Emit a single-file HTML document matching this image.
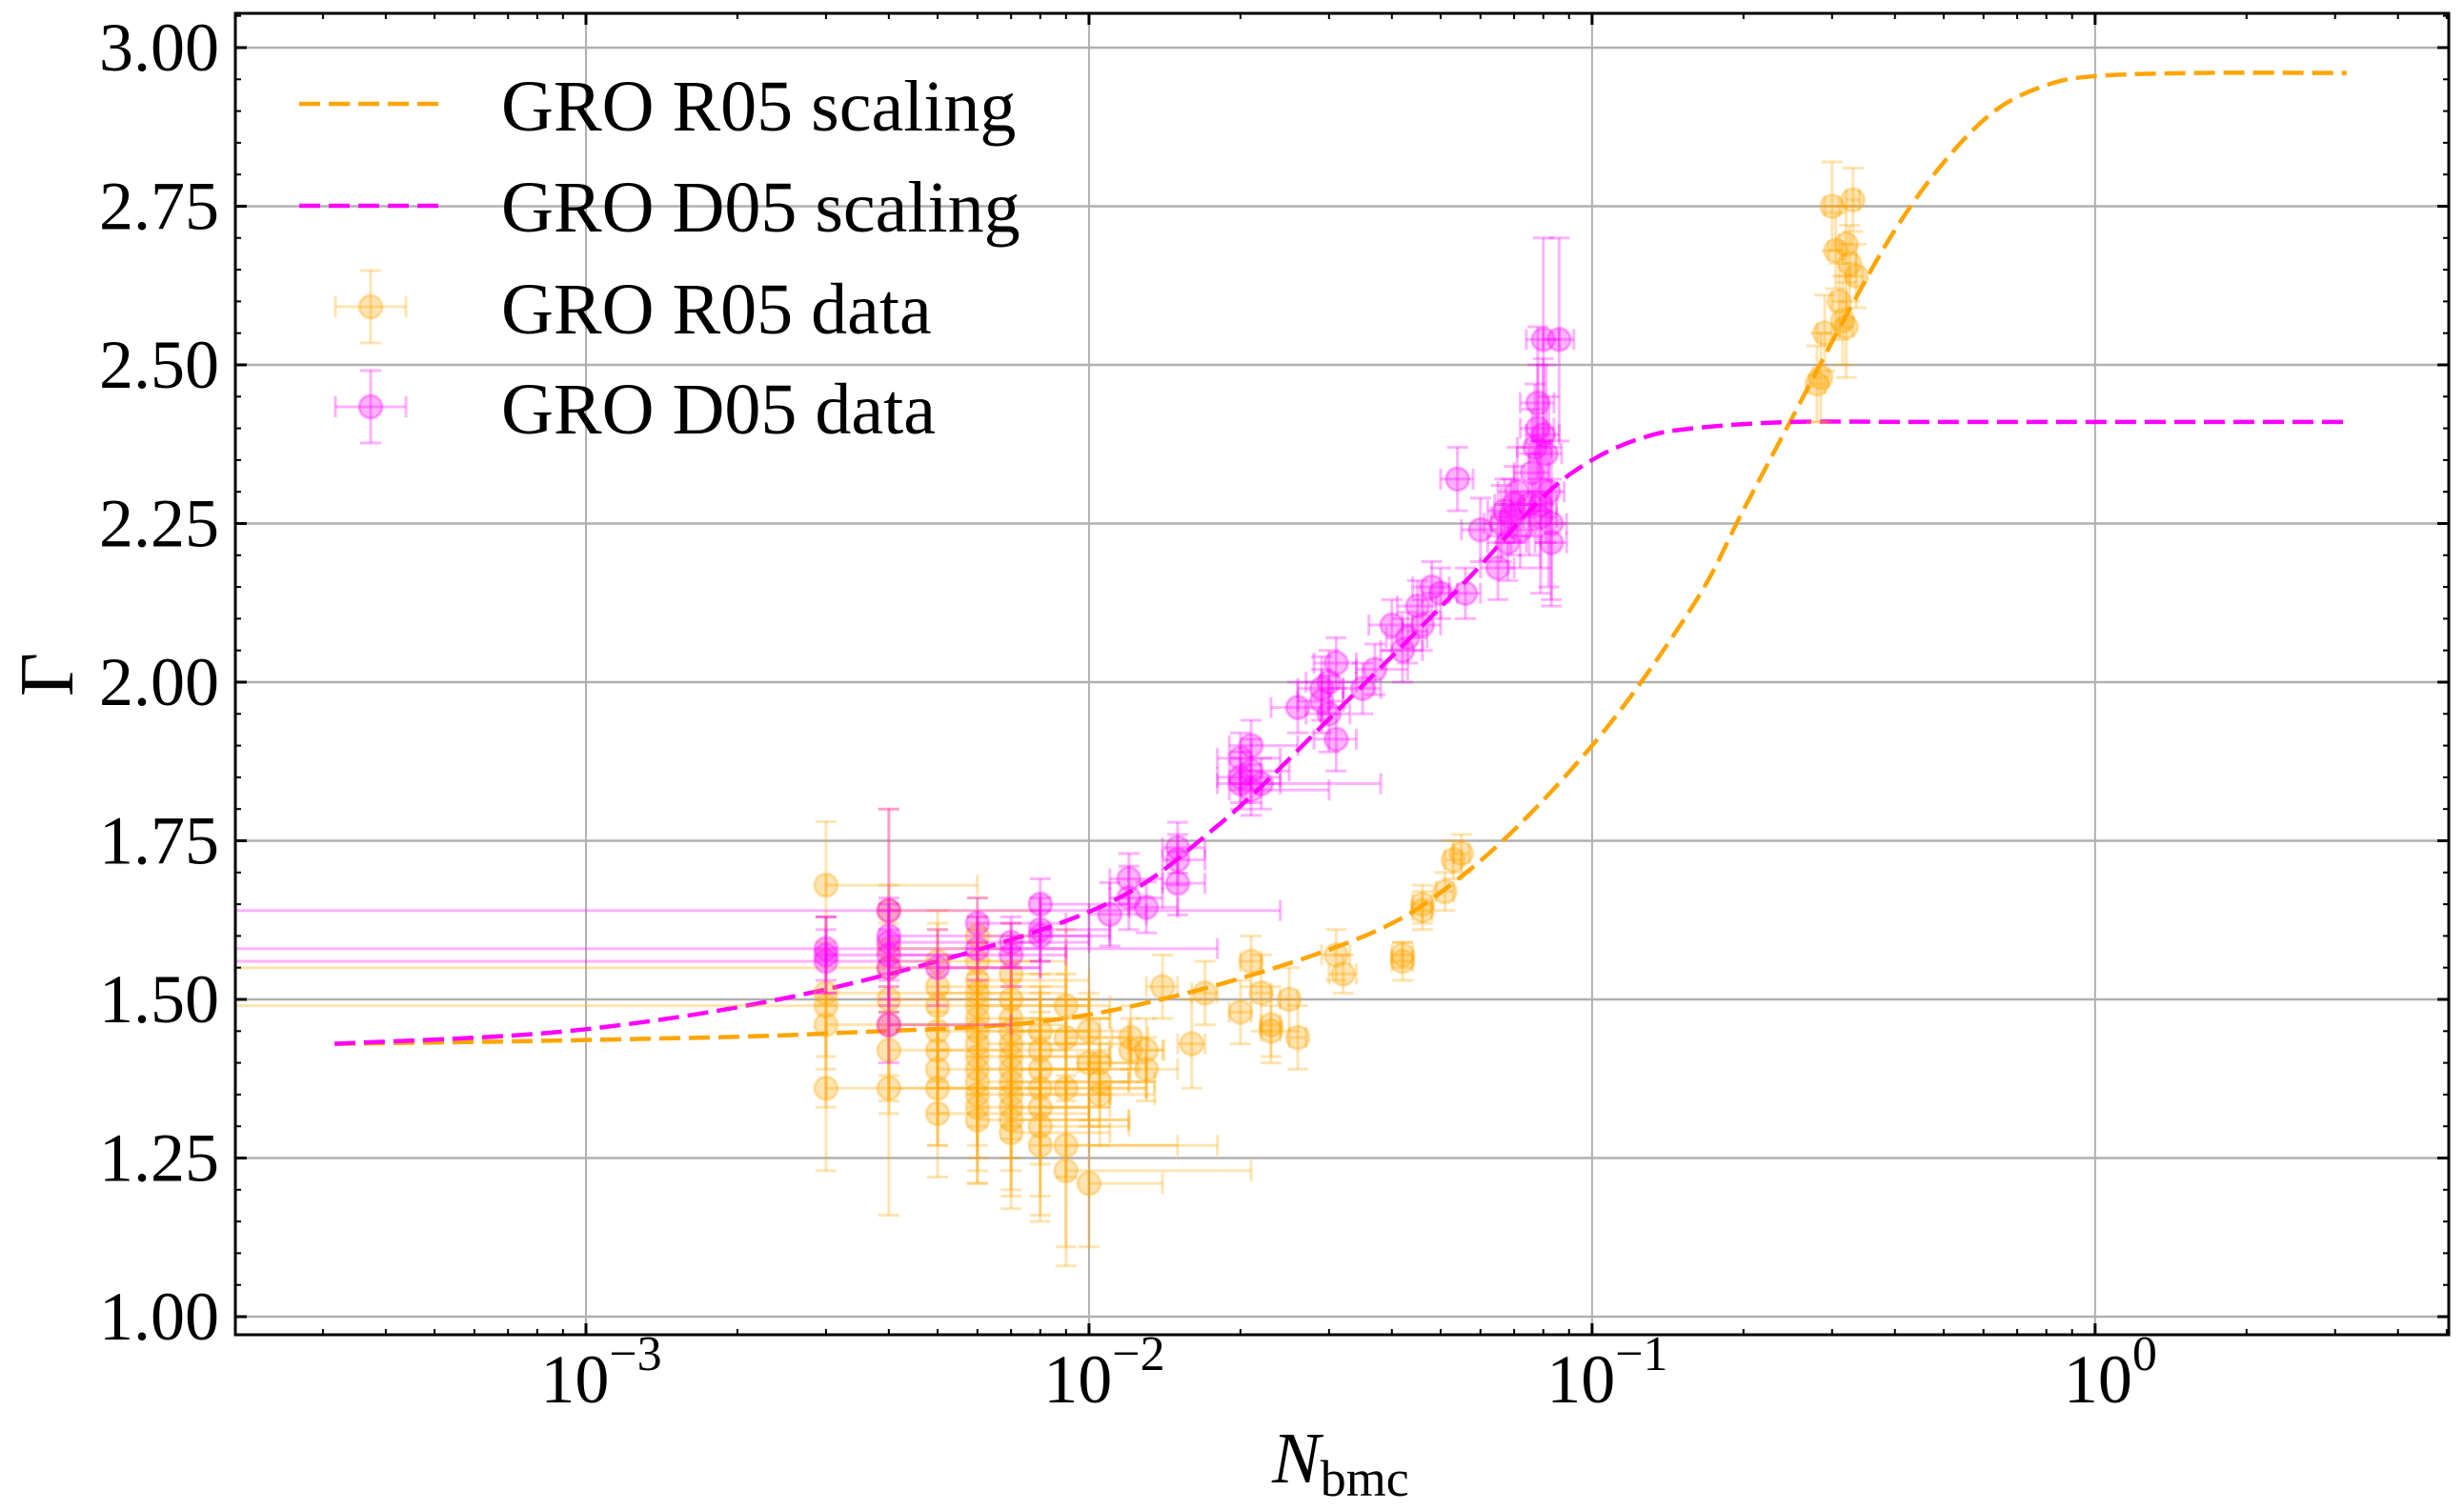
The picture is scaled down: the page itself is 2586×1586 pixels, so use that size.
<!DOCTYPE html>
<html><head><meta charset="utf-8">
<style>
html,body{margin:0;padding:0;background:#fff;}
svg{display:block;}
text{font-family:"Liberation Serif","DejaVu Serif",serif;fill:#000;}
</style></head>
<body>
<svg id="chart" width="2586" height="1586" viewBox="0 0 2586 1586" xmlns="http://www.w3.org/2000/svg">
  <rect x="0" y="0" width="2586" height="1586" fill="#fff"/>
  <g id="grid"></g>
  <g id="curves"></g>
  <g id="points"></g>
  <rect x="247" y="14" width="2323" height="1387" fill="none" stroke="#000" stroke-width="3"/>
  <g id="ticks"></g>
  <g id="labels"></g>
  <text x="50" y="708" font-size="80" text-anchor="middle" dominant-baseline="central" transform="rotate(-90 50 708)">Γ</text>
  <text x="1335" y="1556" font-size="76"><tspan font-style="italic">N</tspan><tspan font-size="54" dy="14">bmc</tspan></text>
  <g id="legend">
    <g>
      <line x1="314" y1="109" x2="462" y2="109" stroke="#ffa500" stroke-width="4.5" stroke-dasharray="22,9"/>
      <text x="526" y="137" font-size="76">GRO R05 scaling</text>
    </g>
    <g>
      <line x1="314" y1="216" x2="462" y2="216" stroke="#ff00ff" stroke-width="4.5" stroke-dasharray="22,9"/>
      <text x="526" y="243" font-size="76">GRO D05 scaling</text>
    </g>
    <g stroke-opacity="0.3">
      <line x1="352" y1="322" x2="426" y2="322" stroke="#ffa500" stroke-width="3"/>
      <line x1="389" y1="284" x2="389" y2="360" stroke="#ffa500" stroke-width="3"/>
      <line x1="378" y1="284" x2="400" y2="284" stroke="#ffa500" stroke-width="3"/>
      <line x1="378" y1="360" x2="400" y2="360" stroke="#ffa500" stroke-width="3"/>
      <line x1="352" y1="311" x2="352" y2="333" stroke="#ffa500" stroke-width="3"/>
      <line x1="426" y1="311" x2="426" y2="333" stroke="#ffa500" stroke-width="3"/>
      <circle cx="389" cy="322" r="12" fill="#ffa500" fill-opacity="0.3" stroke="#ffa500" stroke-width="3"/>
    </g>
    <text x="526" y="350" font-size="76">GRO R05 data</text>
    <g stroke-opacity="0.3">
      <line x1="352" y1="427" x2="426" y2="427" stroke="#ff00ff" stroke-width="3"/>
      <line x1="389" y1="389" x2="389" y2="465" stroke="#ff00ff" stroke-width="3"/>
      <line x1="378" y1="389" x2="400" y2="389" stroke="#ff00ff" stroke-width="3"/>
      <line x1="378" y1="465" x2="400" y2="465" stroke="#ff00ff" stroke-width="3"/>
      <line x1="352" y1="416" x2="352" y2="438" stroke="#ff00ff" stroke-width="3"/>
      <line x1="426" y1="416" x2="426" y2="438" stroke="#ff00ff" stroke-width="3"/>
      <circle cx="389" cy="427" r="12" fill="#ff00ff" fill-opacity="0.3" stroke="#ff00ff" stroke-width="3"/>
    </g>
    <text x="526" y="455" font-size="76">GRO D05 data</text>
  </g>
</svg>
<script>
// ---- data ----
const yTicks = [1.00, 1.25, 1.50, 1.75, 2.00, 2.25, 2.50, 2.75, 3.00];
const yTickLabels = ["1.00","1.25","1.50","1.75","2.00","2.25","2.50","2.75","3.00"];
const xDecades = [-3, -2, -1, 0];
const xTickLabels = ["10","10","10","10"];
const xTickExps = ["\u22123","\u22122","\u22121","0"];

const r05CurveLogN = [-3.5,-3.0,-2.5,-2.0,-1.5,-1.25,-1.0,-0.8,-0.7,-0.6,-0.5,-0.4,-0.3,-0.2,-0.1,0.0,0.2,0.5];
const r05CurveG    = [1.430,1.436,1.447,1.476,1.585,1.70,1.90,2.12,2.27,2.42,2.57,2.71,2.82,2.90,2.94,2.955,2.96,2.96];
const d05CurveLogN = [-3.5,-3.0,-2.5,-2.0,-1.75,-1.5,-1.25,-1.1,-1.0,-0.9,-0.8,-0.6,-0.3,0.5];
const d05CurveG    = [1.430,1.453,1.52,1.638,1.77,1.96,2.16,2.29,2.35,2.385,2.40,2.41,2.41,2.41];

const r05N  = [0.003,0.003,0.003,0.003,0.003, 0.004,0.004,0.004,0.004,0.004,0.004,0.004,
  0.005,0.005,0.005,0.005,0.005,0.005,0.005,0.005,
  0.006,0.006,0.006,0.006,0.006,0.006,0.006,0.006,0.006,0.006,0.006,0.006,0.006,0.006,
  0.007,0.007,0.007,0.007,0.007,0.007,0.007,0.007,0.007,0.007,0.007,0.007,
  0.008,0.008,0.008,0.008,0.008,0.008,0.008,
  0.009,0.009,0.009,0.009,0.009, 0.01,0.01,0.01, 0.0105,0.0105,0.0105, 0.0121,0.0121, 0.013,0.013,
  0.014,0.016,0.017,0.020,0.021,0.022,0.023,0.023,0.025,0.026,0.031,0.032,0.042,0.042,0.046,0.046,0.051,0.053,0.055,
  0.28,0.285,0.29,0.30,0.305,0.31,0.315,0.32,0.32,0.325,0.33,0.335];
const r05G  = [1.68,1.51,1.49,1.46,1.36, 1.64,1.58,1.55,1.50,1.46,1.42,1.36,
  1.56,1.52,1.49,1.45,1.42,1.39,1.36,1.32,
  1.60,1.56,1.53,1.51,1.49,1.47,1.45,1.43,1.41,1.39,1.37,1.35,1.33,1.31,
  1.54,1.50,1.47,1.45,1.43,1.41,1.39,1.37,1.35,1.33,1.31,1.29,
  1.45,1.42,1.39,1.36,1.33,1.30,1.27,
  1.49,1.44,1.36,1.27,1.23, 1.45,1.40,1.21, 1.40,1.37,1.35, 1.44,1.42, 1.42,1.39,
  1.52,1.43,1.51,1.48,1.56,1.51,1.46,1.45,1.50,1.44,1.57,1.54,1.57,1.56,1.65,1.64,1.67,1.72,1.73,
  2.47,2.48,2.55,2.75,2.68,2.60,2.57,2.56,2.69,2.66,2.76,2.64];
const r05Ye = [0.10,0.12,0.08,0.13,0.13, 0.16,0.10,0.09,0.12,0.12,0.10,0.20,
  0.08,0.10,0.12,0.09,0.10,0.12,0.09,0.10,
  0.06,0.07,0.09,0.10,0.10,0.12,0.10,0.10,0.11,0.12,0.12,0.12,0.12,0.10,
  0.08,0.09,0.10,0.10,0.10,0.11,0.11,0.12,0.12,0.13,0.12,0.12,
  0.09,0.10,0.12,0.12,0.14,0.14,0.12,
  0.12,0.10,0.14,0.16,0.15, 0.06,0.10,0.10, 0.07,0.07,0.08, 0.05,0.05, 0.05,0.05,
  0.05,0.07,0.05,0.05,0.04,0.06,0.06,0.04,0.05,0.05,0.04,0.03,0.02,0.03,0.03,0.03,0.03,0.03,0.03,
  0.06,0.07,0.06,0.07,0.06,0.06,0.07,0.08,0.06,0.06,0.05,0.05];
const r05XeLo = [0,0,0.01,0,0, 0,0,0.01,0,0,0,0,
  0.001,0,0,0,0,0,0,0,
  0,0,0,0.001,0,0,0,0,0,0,0,0,0,0,
  0,0,0,0,0,0,0,0,0,0,0,0,
  0.001,0,0,0,0,0,0,
  0.001,0,0,0,0, 0.001,0,0, 0.001,0,0, 0.001,0, 0.001,0,
  0.001,0.001,0.001,0.001,0.001,0.001,0.001,0.001,0.001,0.001,0.002,0.002,0.002,0.002,0.002,0.002,0.002,0.002,0.002,
  0.01,0.01,0.01,0.01,0.01,0.01,0.01,0.01,0.01,0.01,0.01,0.01];
const r05XeHi = [0.003,0.004,0.002,0.003,0.005, 0.004,0.003,0.003,0.004,0.005,0.003,0.004,
  0.003,0.004,0.005,0.003,0.004,0.005,0.004,0.005,
  0.002,0.003,0.004,0.003,0.004,0.005,0.003,0.004,0.005,0.004,0.006,0.005,0.004,0.006,
  0.002,0.003,0.004,0.003,0.005,0.004,0.006,0.005,0.004,0.003,0.005,0.004,
  0.002,0.003,0.004,0.005,0.003,0.004,0.010,
  0.002,0.003,0.004,0.006,0.012, 0.002,0.003,0.004, 0.002,0.003,0.003, 0.001,0.002, 0.001,0.002,
  0.001,0.001,0.001,0.001,0.001,0.001,0.001,0.001,0.001,0.001,0.002,0.002,0.002,0.002,0.002,0.002,0.002,0.002,0.002,
  0.01,0.01,0.01,0.01,0.01,0.01,0.01,0.01,0.01,0.01,0.01,0.01];

const d05N  = [0.003,0.003,0.003, 0.004,0.004,0.004,0.004,0.004,0.004, 0.005, 0.006,0.006, 0.007,0.007,
  0.008,0.008,0.008, 0.011,0.012,0.012,0.013, 0.015,0.015,0.015,
  0.020,0.020,0.020,0.021,0.021,0.021,0.022, 0.026,0.029,0.029,0.030,0.030,0.031,0.031,0.035,0.037,
  0.040,0.042,0.043,0.045,0.046,0.048,0.050,0.054,0.056,0.060,
  0.065,0.066,0.067,0.068,0.069,0.070,0.071,0.072,0.075,0.076,0.077,
  0.078,0.078,0.079,0.079,0.080,0.080,0.081,0.082,0.083,0.083,0.086];
const d05G  = [1.58,1.57,1.56, 1.64,1.60,1.59,1.57,1.55,1.46, 1.55, 1.62,1.58, 1.59,1.57,
  1.65,1.61,1.60, 1.634,1.69,1.66,1.645, 1.739,1.72,1.683,
  1.84,1.85,1.88,1.90,1.86,1.83,1.84, 1.96,1.97,1.99,1.95,2.00,2.03,1.91,1.99,2.02,
  2.09,2.05,2.07,2.12,2.09,2.15,2.14,2.32,2.14,2.24,
  2.18,2.25,2.27,2.22,2.26,2.28,2.30,2.24,2.28,2.33,2.37,
  2.44,2.40,2.28,2.26,2.54,2.39,2.36,2.30,2.25,2.22,2.54];
const d05Ye = [0.05,0.06,0.05, 0.16,0.06,0.06,0.07,0.06,0.06, 0.06, 0.04,0.05, 0.04,0.05,
  0.04,0.05,0.04, 0.05,0.04,0.05,0.04, 0.04,0.04,0.05,
  0.04,0.04,0.04,0.04,0.05,0.04,0.04, 0.04,0.05,0.05,0.06,0.05,0.04,0.05,0.04,0.04,
  0.04,0.05,0.04,0.04,0.04,0.04,0.04,0.05,0.04,0.05,
  0.05,0.06,0.05,0.06,0.06,0.06,0.07,0.06,0.08,0.10,0.10,
  0.12,0.10,0.10,0.12,0.16,0.12,0.14,0.15,0.12,0.10,0.16];
const d05XeLo = [0.003,0,0.003, 0.004,0,0,0,0,0, 0, 0,0, 0,0,
  0,0,0, 0.001,0.001,0.001,0.001, 0.001,0.001,0.001,
  0.002,0.002,0.002,0.002,0.002,0.002,0.002, 0.003,0.003,0.003,0.003,0.003,0.003,0.003,0.003,0.003,
  0.004,0.004,0.004,0.004,0.004,0.004,0.004,0.004,0.004,0.005,
  0.005,0.005,0.005,0.006,0.006,0.006,0.006,0.006,0.006,0.006,0.006,
  0.006,0.006,0.006,0.006,0.006,0.006,0.006,0.006,0.006,0.006,0.006];
const d05XeHi = [0.015,0.003,0.002, 0.02,0.006,0.004,0.003,0.004,0.003, 0.003, 0.003,0.003, 0.003,0.002,
  0.004,0.003,0.003, 0.002,0.002,0.002,0.002, 0.002,0.002,0.002,
  0.004,0.004,0.004,0.005,0.004,0.009,0.016, 0.003,0.003,0.003,0.003,0.004,0.003,0.003,0.003,0.006,
  0.004,0.004,0.004,0.004,0.004,0.004,0.004,0.004,0.004,0.005,
  0.005,0.005,0.005,0.006,0.006,0.006,0.006,0.006,0.006,0.006,0.006,
  0.006,0.006,0.006,0.006,0.006,0.006,0.006,0.006,0.006,0.006,0.006];

// ---- axes ----
const PL=247, PR=2570, PT=14, PB=1401;
const LX0=-3.697, LX1=0.703, Y0=0.9715, Y1=3.054;
function xLog(l){ return PL + (l-LX0)/(LX1-LX0)*(PR-PL); }
function xs(n){ return xLog(Math.log10(n)); }
function ys(g){ return PB - (g-Y0)/(Y1-Y0)*(PB-PT); }
const NS="http://www.w3.org/2000/svg";
function mk(tag, attrs, parent){ const e=document.createElementNS(NS,tag); for(const k in attrs) e.setAttribute(k,attrs[k]); parent.appendChild(e); return e; }

const grid=document.getElementById('grid'), ticks=document.getElementById('ticks'), labels=document.getElementById('labels');
yTicks.forEach((v,i)=>{
  const y=ys(v);
  const gl=mk('line',{x1:PL,x2:PR,y1:y,y2:y,stroke:'#b0b0b0','stroke-width':2.5},grid);
  
  
  mk('line',{x1:PL,x2:PL+12,y1:y,y2:y,stroke:'#000','stroke-width':3},ticks);
  mk('line',{x1:PR-12,x2:PR,y1:y,y2:y,stroke:'#000','stroke-width':3},ticks);
  const t=mk('text',{x:230,y:y,'font-size':72,'text-anchor':'end','dominant-baseline':'central'},labels);
  t.textContent=yTickLabels[i];
  
  
});
for(let v=0.95; v<3.06; v+=0.05){
  const y=ys(v); if(y<PT||y>PB) continue;
  mk('line',{x1:PL,x2:PL+6,y1:y,y2:y,stroke:'#000','stroke-width':2},ticks);
  mk('line',{x1:PR-6,x2:PR,y1:y,y2:y,stroke:'#000','stroke-width':2},ticks);
}
xDecades.forEach((d,i)=>{
  const x=xLog(d);
  const gl=mk('line',{x1:x,x2:x,y1:PT,y2:PB,stroke:'#b0b0b0','stroke-width':2},grid);
  
  
  mk('line',{x1:x,x2:x,y1:PB-12,y2:PB,stroke:'#000','stroke-width':3},ticks);
  mk('line',{x1:x,x2:x,y1:PT,y2:PT+12,stroke:'#000','stroke-width':3},ticks);
  const t=mk('text',{x:x+16,y:1472,'font-size':72,'text-anchor':'middle'},labels);
  
  
  const a=mk('tspan',{},t); a.textContent=xTickLabels[i];
  const b=mk('tspan',{'font-size':52,dy:-34},t); b.textContent=xTickExps[i];
});
for(let d=-4; d<=0; d++){
  for(let m=2;m<=9;m++){
    const x=xLog(d+Math.log10(m)); if(x<PL||x>PR) continue;
    mk('line',{x1:x,x2:x,y1:PB-6,y2:PB,stroke:'#000','stroke-width':2},ticks);
    mk('line',{x1:x,x2:x,y1:PT,y2:PT+6,stroke:'#000','stroke-width':2},ticks);
  }
}

// ---- curves ----
function smoothPath(px,py){
  let d='M'+px[0]+','+py[0];
  for(let i=0;i<px.length-1;i++){
    const p0x=px[Math.max(0,i-1)],p0y=py[Math.max(0,i-1)];
    const p3x=px[Math.min(px.length-1,i+2)],p3y=py[Math.min(px.length-1,i+2)];
    const c1x=px[i]+(px[i+1]-p0x)/6, c1y=py[i]+(py[i+1]-p0y)/6;
    const c2x=px[i+1]-(p3x-px[i])/6, c2y=py[i+1]-(p3y-py[i])/6;
    d+=' C'+c1x+','+c1y+' '+c2x+','+c2y+' '+px[i+1]+','+py[i+1];
  }
  return d;
}
const curves=document.getElementById('curves');
const c1=mk('path',{d:smoothPath(r05CurveLogN.map(xLog),r05CurveG.map(ys)),fill:'none',stroke:'#ffa500','stroke-width':4.5,'stroke-dasharray':'22,9'},curves);


const c2=mk('path',{d:smoothPath(d05CurveLogN.map(xLog),d05CurveG.map(ys)),fill:'none',stroke:'#ff00ff','stroke-width':4.5,'stroke-dasharray':'22,9'},curves);



// ---- points ----
const pts=document.getElementById('points');
function drawSeries(N,G,Ye,XLo,XHi,color,name){
  const sg=mk('g',{},pts);
  
  
  for(let i=0;i<N.length;i++){
    const g=mk('g',{},sg);
    
    
    const cx=xs(N[i]), cy=ys(G[i]);
    const lo=N[i]-XLo[i];
    const xl = lo>0 ? xs(lo) : PL; const xh=xs(N[i]+XHi[i]);
    const yt=ys(G[i]+Ye[i]), yb=ys(G[i]-Ye[i]);
    const st={stroke:color,'stroke-width':3,'stroke-opacity':0.3};
    mk('line',Object.assign({x1:xl,x2:xh,y1:cy,y2:cy},st),g);
    mk('line',Object.assign({x1:cx,x2:cx,y1:yt,y2:yb},st),g);
    mk('line',Object.assign({x1:cx-11,x2:cx+11,y1:yt,y2:yt},st),g);
    mk('line',Object.assign({x1:cx-11,x2:cx+11,y1:yb,y2:yb},st),g);
    if(lo>0) mk('line',Object.assign({x1:xl,x2:xl,y1:cy-11,y2:cy+11},st),g);
    mk('line',Object.assign({x1:xh,x2:xh,y1:cy-11,y2:cy+11},st),g);
    mk('circle',{cx:cx,cy:cy,r:12,fill:color,'fill-opacity':0.3,stroke:color,'stroke-opacity':0.3,'stroke-width':3},g);
  }
}
drawSeries(r05N,r05G,r05Ye,r05XeLo,r05XeHi,'#ffa500','r05-data');
drawSeries(d05N,d05G,d05Ye,d05XeLo,d05XeHi,'#ff00ff','d05-data');
</script>
</body></html>
